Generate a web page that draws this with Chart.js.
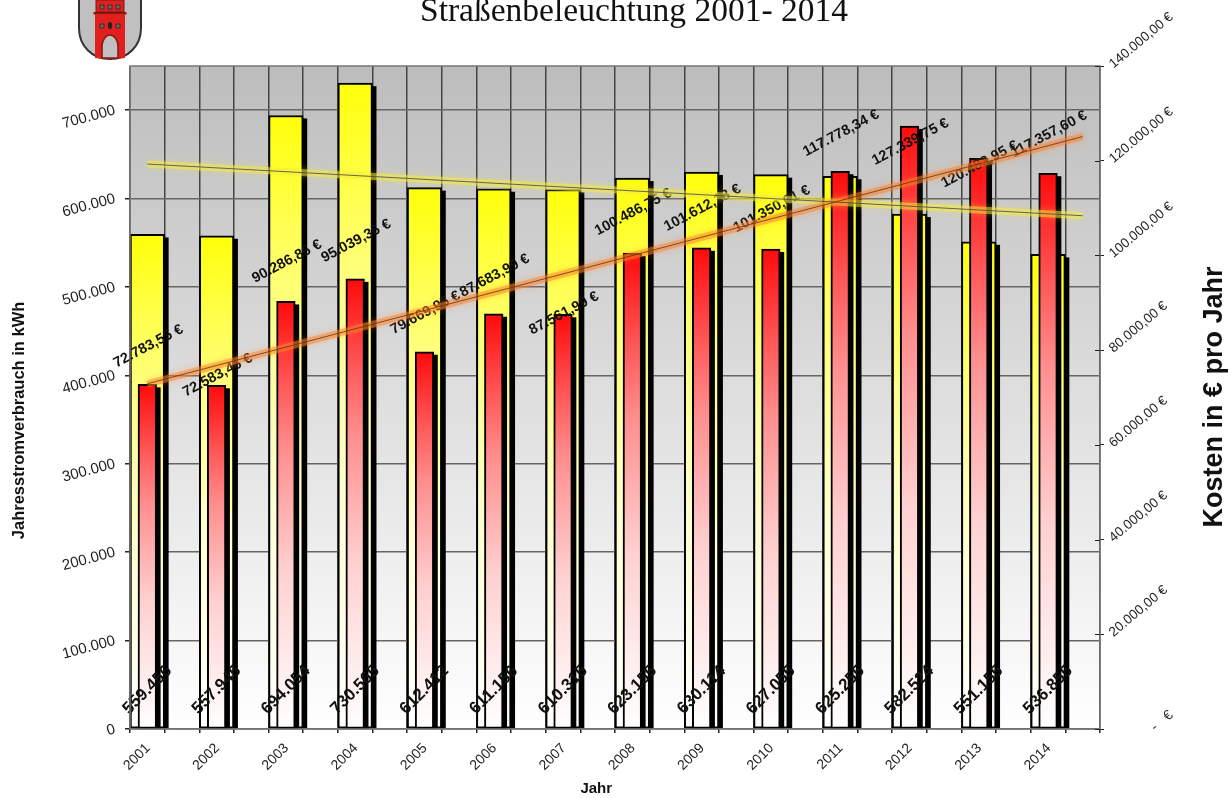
<!DOCTYPE html>
<html>
<head>
<meta charset="utf-8">
<title>Straßenbeleuchtung 2001- 2014</title>
<script src="https://cdn.jsdelivr.net/npm/chart.js@4/dist/chart.umd.min.js"></script>
<style>
  body { margin: 0; background: #fff; }
  #wrap { position: relative; width: 1231px; height: 798px; overflow: hidden; }
  #crest { position: absolute; left: 76px; top: 0; }
</style>
</head>
<body>
<div id="wrap">
  <canvas id="Chart" width="1231" height="798"></canvas>
  <svg id="crest" width="68" height="62" viewBox="0 0 68 62">
    <path d="M3 -4 V28 C3 46 16 59 34 59 C52 59 65 46 65 28 V-4" fill="#c0c0c0" stroke="#333" stroke-width="2"/>
    <path d="M19 58 V24 H49 V58 C44 59 24 59 19 58 Z" fill="#e0201f"/>
    <rect x="17.5" y="12" width="33" height="2.5" fill="#8f1512"/>
    <rect x="20" y="0" width="28" height="12" fill="#e0201f" stroke="#7a1411" stroke-width="1"/>
    <rect x="19" y="14" width="30" height="10" fill="#e0201f"/>
    <g fill="#666" stroke="#222" stroke-width="0.7">
      <rect x="24" y="5" width="4" height="4"/><rect x="32" y="5" width="4" height="4"/><rect x="40" y="5" width="4" height="4"/>
      <rect x="24" y="24" width="4" height="4"/><rect x="40" y="24" width="4" height="4"/>
    </g>
    <rect x="32" y="22" width="4" height="7" rx="2" fill="#222"/>
    <path d="M26 58 V46 C26 40 30 35 34 35 C38 35 42 40 42 46 V58 Z" fill="#c0c0c0" stroke="#8f1512" stroke-width="1.6"/>
  </svg>
</div>
<script>
const years = ['2001','2002','2003','2004','2005','2006','2007','2008','2009','2010','2011','2012','2013','2014'];
const kwh = [559456, 557945, 694054, 730565, 612412, 611156, 610315, 623155, 630114, 627055, 625255, 582524, 551155, 536855];
const costs = [72783.55, 72583.46, 90286.86, 95039.36, 79669.95, 87683.99, 87561.99, 100486.75, 101612.18, 101350.01, 117778.34, 127339.75, 120483.95, 117357.60];
const kwhTicks = [0, 100000, 200000, 300000, 400000, 500000, 600000, 700000];

const trendX = [0.25, 13.75];
const kwhTrend = [639100, 580600];
const costTrend = [72900, 125100];

// the euro labels sit above the bars, these few were moved by hand in the original
const euroLabelDy = [-38, -10, -40, -38, -39, -38, -1, -41, -40, -40, -38, 16, 6, -39];

const FONT = '"Liberation Sans", Arial, sans-serif';
const spacer = n => '\u00a0'.repeat(n);

// the bars fade quickly at first, then slowly down to white
const fadeAt = [0, 0.2, 0.35, 0.63, 1];
const fadeLight = [10, 90, 143, 208, 255];

function barGradient(context, tint, axis) {
  const chart = context.chart;
  if (!chart.chartArea || !context.raw) return tint(0);
  const scale = chart.scales[axis];
  const g = chart.ctx.createLinearGradient(0, scale.getPixelForValue(context.raw.y), 0, scale.getPixelForValue(0));
  fadeAt.forEach((at, i) => g.addColorStop(at, tint(fadeLight[i])));
  return g;
}

const pairs = (xs, ys) => ys.map((y, i) => ({ x: xs[i], y: y }));
const barX = years.map((y, i) => i + 0.25);

const sheetPlugin = {
  id: 'sheet',
  beforeDraw(chart) {
    const { ctx, chartArea: a } = chart;
    const g = ctx.createLinearGradient(0, a.top, 0, a.bottom);
    g.addColorStop(0, '#bdbdbd');
    g.addColorStop(1, '#ffffff');
    ctx.fillStyle = g;
    ctx.fillRect(a.left, a.top, a.right - a.left, a.bottom - a.top);
  },
  beforeDatasetDraw(chart, args) {
    const ds = args.meta.controller.getDataset();
    const ctx = chart.ctx;
    ctx.save();
    if (ds.dropShadow) {
      // bar elements clip to themselves, so a canvas shadow would not show
      ctx.fillStyle = '#000';
      args.meta.data.forEach(el => {
        const b = el.getProps(['x', 'y', 'base', 'width'], true);
        ctx.fillRect(b.x - b.width / 2 + 4, b.y + 3, b.width, b.base - b.y - 3);
      });
    }
    if (ds.glow) {
      ctx.shadowColor = ds.glow;
      ctx.shadowBlur = 7;
    }
  },
  afterDatasetDraw(chart, args) {
    const ctx = chart.ctx;
    ctx.restore();
    // labels go over the bars but under the trend lines
    if (args.meta.controller.getDataset().label !== 'Kosten') return;
    const x = chart.scales.x, y = chart.scales.y, y1 = chart.scales.y1;
    ctx.save();
    ctx.fillStyle = '#111';
    ctx.textAlign = 'center';
    ctx.textBaseline = 'middle';
    years.forEach((yr, i) => {
      ctx.save();
      ctx.translate(x.getPixelForValue(barX[i]) + 1, y1.getPixelForValue(costs[i]) + euroLabelDy[i]);
      ctx.rotate(-28 * Math.PI / 180);
      ctx.font = 'bold 14.5px ' + FONT;
      ctx.fillText(costs[i].toLocaleString('de-DE', { minimumFractionDigits: 2 }) + ' €', 0, 0);
      ctx.restore();

      ctx.save();
      ctx.translate(x.getPixelForValue(barX[i]), y.getPixelForValue(0) - 39);
      ctx.rotate(-45 * Math.PI / 180);
      ctx.font = 'bold 17px ' + FONT;
      ctx.fillText(kwh[i].toLocaleString('de-DE'), 0, 0);
      ctx.restore();
    });
    ctx.restore();
  },
  afterDraw(chart) {
    const { ctx, chartArea: a } = chart;
    const y1 = chart.scales.y1;
    ctx.save();
    ctx.strokeStyle = '#777';
    ctx.lineWidth = 1.5;
    ctx.strokeRect(a.left, a.top, a.right - a.left, a.bottom - a.top);
    ctx.strokeStyle = '#222';
    ctx.lineWidth = 1;
    y1.ticks.forEach(t => {
      const py = Math.round(y1.getPixelForValue(t.value)) + 0.5;
      ctx.beginPath();
      ctx.moveTo(a.right - 5, py);
      ctx.lineTo(a.right, py);
      ctx.stroke();
    });
    // title
    ctx.fillStyle = '#111';
    ctx.font = '33.5px "Liberation Serif", "Times New Roman", serif';
    ctx.textAlign = 'center';
    ctx.textBaseline = 'alphabetic';
    ctx.fillText('Straßenbeleuchtung 2001- 2014', 634, 21);
    // right axis title reads upwards, the scale title would read downwards
    ctx.save();
    ctx.translate(1222, 397);
    ctx.rotate(-Math.PI / 2);
    ctx.font = 'bold 27px ' + FONT;
    ctx.fillText('Kosten in € pro Jahr', 0, 0);
    ctx.restore();
    // zero of the money axis, printed apart in the accounting format
    ctx.translate(a.right + 62, y1.getPixelForValue(0) - 8);
    ctx.rotate(-40 * Math.PI / 180);
    ctx.font = '14px ' + FONT;
    ctx.fillStyle = '#333';
    ctx.textBaseline = 'middle';
    ctx.fillText('-   €', 0, 0);
    ctx.restore();
  }
};

new Chart('Chart', {
  type: 'bar',
  plugins: [sheetPlugin],
  data: {
    datasets: [
      {
        label: 'Verbrauch',
        data: pairs(barX, kwh),
        yAxisID: 'y',
        grouped: false,
        order: 4,
        barThickness: 34.6,
        borderWidth: 2,
        borderColor: '#000',
        borderSkipped: false,
        dropShadow: true,
        backgroundColor: c => barGradient(c, v => `rgb(255,255,${v})`, 'y')
      },
      {
        label: 'Kosten',
        data: pairs(barX, costs),
        yAxisID: 'y1',
        grouped: false,
        order: 3,
        barThickness: 18.6,
        borderWidth: 2,
        borderColor: '#000',
        borderSkipped: false,
        dropShadow: true,
        backgroundColor: c => barGradient(c, v => `rgb(255,${v},${v})`, 'y1')
      },
      {
        type: 'line', data: pairs(trendX, costTrend), yAxisID: 'y1', order: 2,
        borderColor: 'rgba(255,130,40,0.5)', borderWidth: 7, glow: 'rgba(255,130,40,0.6)', pointRadius: 0
      },
      {
        type: 'line', data: pairs(trendX, kwhTrend), yAxisID: 'y', order: 2,
        borderColor: 'rgba(245,235,60,0.5)', borderWidth: 7, glow: 'rgba(245,235,60,0.6)', pointRadius: 0
      },
      {
        type: 'line', data: pairs(trendX, costTrend), yAxisID: 'y1', order: 1,
        borderColor: '#5a3415', borderWidth: 0.8, pointRadius: 0
      },
      {
        type: 'line', data: pairs(trendX, kwhTrend), yAxisID: 'y', order: 1,
        borderColor: '#444', borderWidth: 0.8, pointRadius: 0
      }
    ]
  },
  options: {
    responsive: false,
    animation: false,
    layout: { padding: { top: 66 } },
    plugins: { legend: { display: false }, tooltip: { enabled: false } },
    scales: {
      x: {
        type: 'linear',
        offset: false,
        min: 0,
        max: 14,
        afterFit: s => { s.height = 69; },
        grid: { offset: false, color: '#444', lineWidth: 1.5, tickColor: '#222', tickLength: 4 },
        border: { display: false },
        ticks: {
          stepSize: 0.5,
          autoSkip: false,
          minRotation: 45,
          maxRotation: 45,
          labelOffset: 18,
          padding: 7,
          color: '#222',
          font: { family: FONT, size: 14 },
          callback: v => (Number.isInteger(v) && v < years.length ? years[v] : '')
        },
        title: {
          display: true,
          text: 'Jahr' + spacer(9),
          color: '#111',
          font: { family: FONT, size: 15, weight: 'bold' },
          padding: { top: 0, bottom: 0 }
        }
      },
      y: {
        position: 'left',
        min: 0,
        max: 750000,
        afterFit: s => { s.width = 130; },
        afterBuildTicks: s => { s.ticks = kwhTicks.map(v => ({ value: v })); },
        grid: { color: '#666', lineWidth: 1.5, tickColor: '#222', tickLength: 5 },
        border: { display: false },
        ticks: {
          minRotation: 15,
          maxRotation: 15,
          padding: 10,
          color: '#222',
          font: { family: FONT, size: 15 },
          callback: v => v.toLocaleString('de-DE')
        },
        title: {
          display: true,
          text: 'Jahresstromverbrauch in kWh' + spacer(10),
          color: '#111',
          font: { family: FONT, size: 16.5, weight: 'bold' },
          padding: { top: 9.6, bottom: 0 }
        }
      },
      y1: {
        position: 'right',
        min: 0,
        max: 140000,
        afterFit: s => { s.width = 131; },
        grid: { drawOnChartArea: false, color: '#222', tickLength: 4 },
        border: { display: false },
        ticks: {
          stepSize: 20000,
          minRotation: 40,
          maxRotation: 40,
          padding: 7,
          color: '#222',
          font: { family: FONT, size: 13.5 },
          callback: v => (v === 0 ? '' : v.toLocaleString('de-DE', { minimumFractionDigits: 2 }) + ' €')
        }
      }
    }
  }
});
</script>
</body>
</html>
